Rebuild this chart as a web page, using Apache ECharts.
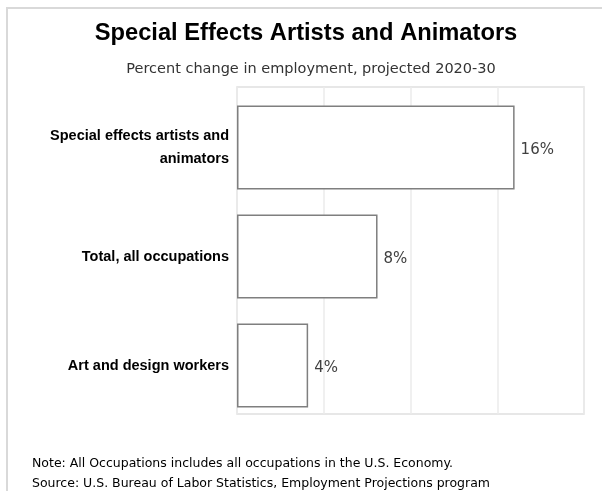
<!DOCTYPE html>
<html><head><meta charset="utf-8">
<script src="https://cdn.jsdelivr.net/npm/echarts@6/dist/echarts.min.js"></script>
<style>html,body{margin:0;padding:0;background:#fff}#c{width:602px;height:491px}</style>
</head><body><div id="c"></div>
<script>
var categories = ['Special effects artists and\nanimators', 'Total, all occupations', 'Art and design workers'];
var values = [16, 8.1, 4.1];
var axisMin = 0, axisMax = 20, axisInterval = 5;
var titleText = 'Special Effects Artists and Animators';
var subtitleText = 'Percent change in employment, projected 2020-30';
var noteText = 'Note: All Occupations includes all occupations in the U.S. Economy.';
var sourceText = 'Source: U.S. Bureau of Labor Statistics, Employment Projections program';

var chart = echarts.init(document.getElementById('c'), null, {renderer: 'canvas'});
var sans = 'DejaVu Sans';
chart.setOption({
  animation: false,
  backgroundColor: '#fff',
  title: [
    {text: titleText, left: 301, top: 16, textAlign: 'center',
     textStyle: {fontFamily: 'Liberation Sans', fontWeight: 'bold', fontSize: 23.7, color: '#000'}},
    {text: subtitleText, left: 306, top: 57, textAlign: 'center',
     textStyle: {fontFamily: sans, fontWeight: 'normal', fontSize: 14.5, color: '#333'}},
    {text: noteText, left: 27, top: 452,
     textStyle: {fontFamily: sans, fontWeight: 'normal', fontSize: 12.5, color: '#000'}},
    {text: sourceText, left: 27, top: 472,
     textStyle: {fontFamily: sans, fontWeight: 'normal', fontSize: 12.5, color: '#000'}}
  ],
  graphic: [{type: 'rect', shape: {x: 7, y: 8, width: 700, height: 600},
    style: {fill: 'none', stroke: '#d9d9d9', lineWidth: 2}, silent: true}],
  grid: [
    {left: 237, top: 87, width: 347, height: 327, show: true, borderColor: '#e0e0e0', borderWidth: 1.5, containLabel: false},
    {left: 237, top: 93, width: 347, height: 327, containLabel: false}
  ],
  xAxis: [
    {gridIndex: 0, type: 'value', min: axisMin, max: axisMax, interval: axisInterval,
     axisLabel: {show: false}, axisLine: {show: false}, axisTick: {show: false},
     splitLine: {show: true, lineStyle: {color: '#ebebeb', width: 1.5}}},
    {gridIndex: 1, type: 'value', min: axisMin, max: axisMax, interval: axisInterval,
     axisLabel: {show: false}, axisLine: {show: false}, axisTick: {show: false}, splitLine: {show: false}}
  ],
  yAxis: [
    {gridIndex: 0, type: 'category', data: categories, inverse: true, show: false},
    {gridIndex: 1, type: 'category', data: categories, inverse: true,
     axisLine: {show: false}, axisTick: {show: false},
     axisLabel: {margin: 8, fontFamily: 'Liberation Sans', fontWeight: 'bold', fontSize: 14.5, color: '#000',
       lineHeight: 23, align: 'right', verticalAlign: 'middle', padding: [0, 0, 7, 0]}}
  ],
  series: [{
    type: 'bar', xAxisIndex: 1, yAxisIndex: 1, data: values, barWidth: 84,
    itemStyle: {color: '#ffffff', borderColor: '#7f7f7f', borderWidth: 1.5},
    label: {show: true, position: 'right', distance: 6, offset: [0, 3],
      formatter: function (p) { return Math.round(p.value) + '%'; },
      fontFamily: sans, fontSize: 15, color: '#404040'}
  }]
});
</script></body></html>
